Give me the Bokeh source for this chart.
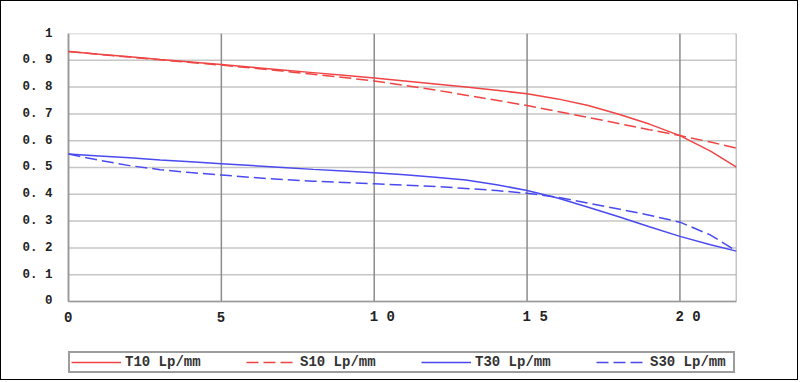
from bokeh.plotting import figure
from bokeh.models import Range1d, FixedTicker, Legend, LegendItem
from bokeh.embed import file_html
from bokeh.resources import INLINE

# image height (mm)
x_mm = [0, 1, 2, 3, 4, 5, 6, 7, 8, 9, 10, 11, 12, 13, 14, 15, 16, 17, 18, 19, 20, 21, 21.85]

t10 = [0.933, 0.923, 0.913, 0.903, 0.894, 0.884, 0.874, 0.864, 0.854, 0.844, 0.834,
       0.823, 0.812, 0.800, 0.788, 0.775, 0.756, 0.731, 0.699, 0.662, 0.619, 0.561, 0.501]
s10 = [0.933, 0.922, 0.912, 0.902, 0.892, 0.882, 0.871, 0.860, 0.848, 0.836, 0.823,
       0.806, 0.789, 0.770, 0.751, 0.731, 0.709, 0.687, 0.664, 0.641, 0.619, 0.595, 0.572]
t30 = [0.550, 0.543, 0.536, 0.528, 0.521, 0.514, 0.507, 0.500, 0.493, 0.487, 0.480,
       0.473, 0.464, 0.453, 0.436, 0.414, 0.386, 0.352, 0.316, 0.279, 0.243, 0.212, 0.188]
s30 = [0.550, 0.527, 0.507, 0.492, 0.481, 0.472, 0.463, 0.455, 0.449, 0.444, 0.439,
       0.434, 0.429, 0.422, 0.414, 0.404, 0.389, 0.367, 0.345, 0.322, 0.296, 0.248, 0.188]

x_ticks = [0, 5, 10, 15, 20]
x_tick_labels = ["0", "5", "1 0", "1 5", "2 0"]
y_ticks = [0, 0.1, 0.2, 0.3, 0.4, 0.5, 0.6, 0.7, 0.8, 0.9, 1]
y_tick_labels = ["0", "0. 1", "0. 2", "0. 3", "0. 4", "0. 5", "0. 6", "0. 7", "0. 8", "0. 9", "1"]
series_names = ["T10 Lp/mm", "S10 Lp/mm", "T30 Lp/mm", "S30 Lp/mm"]

X_MAX = 21.85
RED = "#f04444"
BLUE = "#4a4af0"
DASH = "12 5"

# frame extends a little left of x=0 (room for the "0" label) and below y=0
# (room for the x tick labels and the legend)
p = figure(width=798, height=380, output_backend="svg", toolbar_location=None,
           x_range=Range1d(-0.196, X_MAX), y_range=Range1d(-0.2724, 1),
           min_border_left=61, min_border_right=63, min_border_top=32, min_border_bottom=7)
p.styles = {"border": "1px solid black"}
p.background_fill_color = "white"
p.border_fill_color = "white"
p.outline_line_color = None

p.xaxis.visible = False
p.xgrid.visible = False
p.ygrid.visible = False

p.yaxis.ticker = FixedTicker(ticks=y_ticks)
p.yaxis.major_label_overrides = dict(zip(y_ticks, y_tick_labels))
p.yaxis.axis_line_color = None
p.yaxis.major_tick_line_color = None
p.yaxis.minor_tick_line_color = None
p.yaxis.major_tick_in = 0
p.yaxis.major_tick_out = 0
p.yaxis.major_label_text_font = "Liberation Mono"
p.yaxis.major_label_text_font_style = "bold"
p.yaxis.major_label_text_color = "#222222"
p.yaxis.major_label_text_font_size = "12.5px"
p.yaxis.major_label_text_align = "left"
p.yaxis.major_label_standoff = 10

# horizontal grid lines
p.segment(x0=[x_ticks[0]] * len(y_ticks), y0=y_ticks, x1=[X_MAX] * len(y_ticks), y1=y_ticks,
          line_color="#c6c6c6", line_width=1.5)
# vertical grid lines (ticks + right edge)
vx = x_ticks + [X_MAX]
p.segment(x0=vx, y0=[y_ticks[0]] * len(vx), x1=vx, y1=[y_ticks[-1]] * len(vx),
          line_color="#8c8c8c", line_width=1.5)
# axis lines
p.segment(x0=[x_ticks[0], x_ticks[0]], y0=[y_ticks[0], y_ticks[0]],
          x1=[X_MAX, x_ticks[0]], y1=[y_ticks[0], y_ticks[-1]],
          line_color="#9a9a9a", line_width=1.5)

# x tick labels
p.text(x=x_ticks, y=[y_ticks[0]] * len(x_ticks), text=x_tick_labels,
       x_offset=-4.5, y_offset=16, text_align="left", text_baseline="middle",
       text_font={"value": "Liberation Mono"}, text_font_style="bold",
       text_font_size="14px", text_color="#222222")

r1 = p.line(x_mm, t10, line_color=RED, line_width=1.5)
r2 = p.line(x_mm, s10, line_color=RED, line_width=1.5, line_dash=DASH)
r3 = p.line(x_mm, t30, line_color=BLUE, line_width=1.5)
r4 = p.line(x_mm, s30, line_color=BLUE, line_width=1.5, line_dash=DASH)

legend = Legend(items=[LegendItem(label=n, renderers=[r]) for n, r in zip(series_names, [r1, r2, r3, r4])],
                orientation="horizontal", location=(6, 1), margin=0, padding=1,
                spacing=39, glyph_width=50, glyph_height=14, label_height=14,
                label_width=82, label_standoff=4,
                border_line_color="#3c3c3c", border_line_width=2,
                background_fill_color="white", background_fill_alpha=1,
                label_text_font="Liberation Mono", label_text_font_style="bold",
                label_text_font_size="14px", label_text_color="#333333")
p.add_layout(legend, "center")

open("out.html", "w").write(file_html(p, INLINE))
